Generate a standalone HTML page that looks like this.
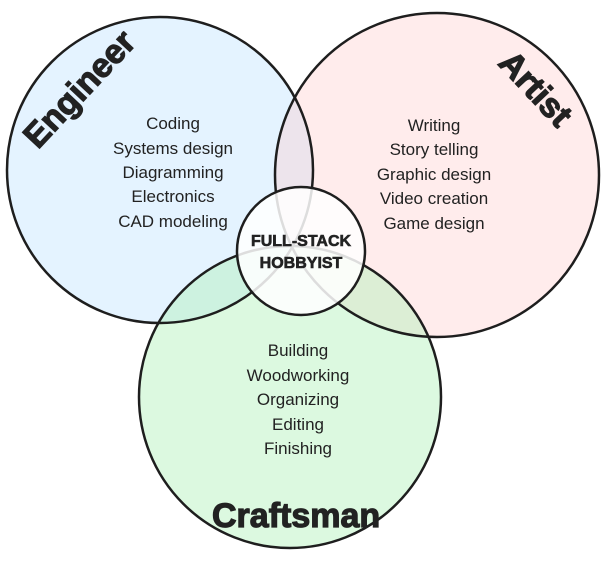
<!DOCTYPE html>
<html><head><style>
html,body{margin:0;padding:0;background:#fff;}
svg{display:block;}
text{font-family:"Liberation Sans",sans-serif;fill:#222;}
.l{font-size:17px;text-anchor:middle;}
.t{font-size:34px;font-weight:bold;stroke:#222;stroke-width:1.2;}
</style></head><body>
<svg width="602" height="566" viewBox="0 0 602 566" xmlns="http://www.w3.org/2000/svg">
<circle cx="160" cy="170" r="153" fill="#a5d8ff" fill-opacity="0.3"/>
<circle cx="437" cy="175" r="162" fill="#ffc9c9" fill-opacity="0.35"/>
<circle cx="290" cy="397" r="151" fill="#b2f2bb" fill-opacity="0.45"/>
<circle cx="160" cy="170" r="153" fill="none" stroke="#1e1e1e" stroke-width="2.5"/>
<circle cx="437" cy="175" r="162" fill="none" stroke="#1e1e1e" stroke-width="2.5"/>
<circle cx="290" cy="397" r="151" fill="none" stroke="#1e1e1e" stroke-width="2.5"/>
<circle cx="301" cy="251" r="64" fill="#fff" fill-opacity="0.85" stroke="#1e1e1e" stroke-width="2.5"/>
<text x="301" y="246" text-anchor="middle" font-size="16" font-weight="bold" stroke="#222" stroke-width="0.6">FULL-STACK</text>
<text x="301" y="268" text-anchor="middle" font-size="16" font-weight="bold" stroke="#222" stroke-width="0.6">HOBBYIST</text>
<text class="l" x="173" y="129">Coding</text>
<text class="l" x="173" y="154">Systems design</text>
<text class="l" x="173" y="178">Diagramming</text>
<text class="l" x="173" y="202">Electronics</text>
<text class="l" x="173" y="227">CAD modeling</text>
<text class="l" x="434" y="131">Writing</text>
<text class="l" x="434" y="155">Story telling</text>
<text class="l" x="434" y="180">Graphic design</text>
<text class="l" x="434" y="204">Video creation</text>
<text class="l" x="434" y="229">Game design</text>
<text class="l" x="298" y="356">Building</text>
<text class="l" x="298" y="381">Woodworking</text>
<text class="l" x="298" y="405">Organizing</text>
<text class="l" x="298" y="430">Editing</text>
<text class="l" x="298" y="454">Finishing</text>
<text class="t" transform="translate(38,150) rotate(-47)">Engineer</text>
<text class="t" transform="translate(497,64) rotate(47)">Artist</text>
<text class="t" x="212" y="527">Craftsman</text>
</svg>
</body></html>
